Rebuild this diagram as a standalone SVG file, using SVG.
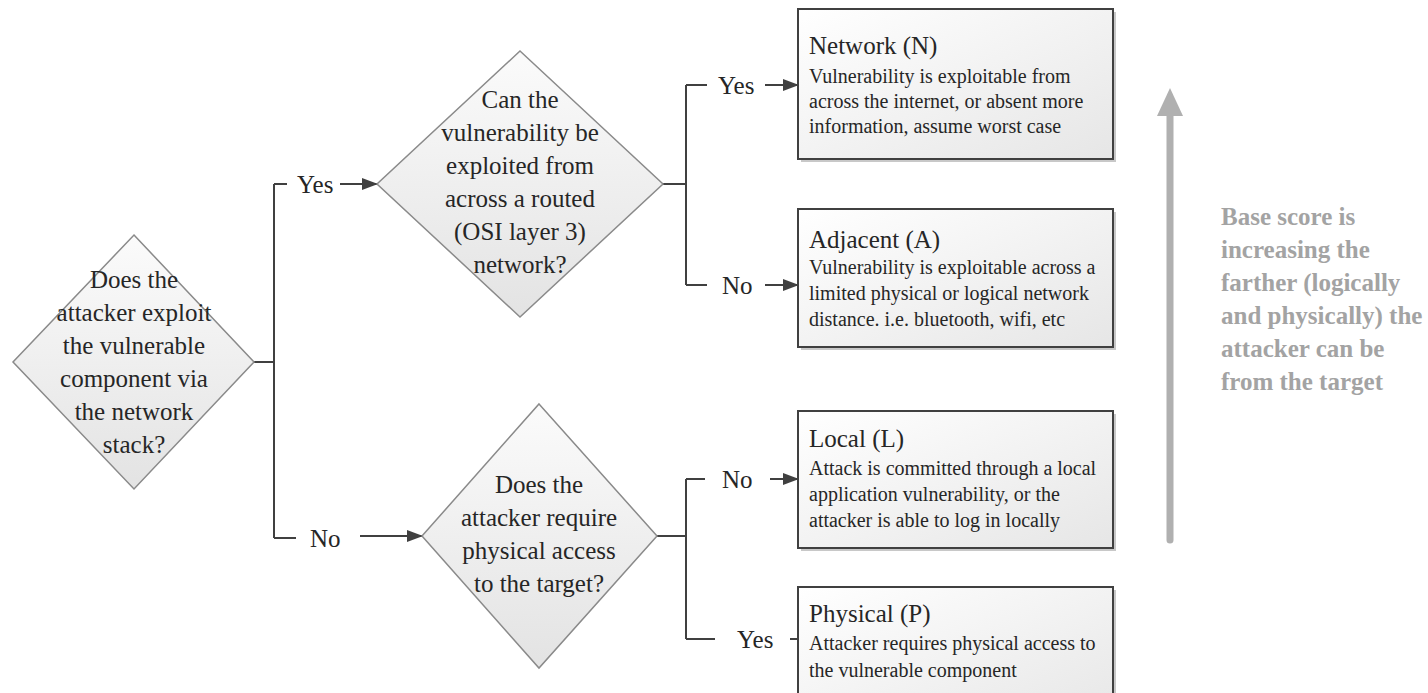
<svg xmlns="http://www.w3.org/2000/svg" width="1428" height="693" viewBox="0 0 1428 693">
<style>
text{fill:#262626;font-family:'Liberation Serif',serif !important}
.q{font-size:25px;text-anchor:middle}
.lbl{font-size:25px}
.tt{font-size:25px}
.ds{font-size:20px}
.side{font-size:25px;font-weight:bold;fill:#a3a3a3}
.dia{fill:url(#gd);stroke:#8a8a8a;stroke-width:1.5}
.box{fill:url(#gb);stroke:#404040;stroke-width:2}
.sh{fill:#c8c8c8}
.ln{fill:none;stroke:#404040;stroke-width:2}
.ar{fill:none;stroke:#404040;stroke-width:2;marker-end:url(#ah)}
</style>
<defs>
<linearGradient id="gd" x1="0" y1="0" x2="0" y2="1"><stop offset="0" stop-color="#fbfbfb"/><stop offset="1" stop-color="#e3e3e3"/></linearGradient>
<linearGradient id="gb" x1="0" y1="0" x2="1" y2="1"><stop offset="0" stop-color="#ffffff"/><stop offset="1" stop-color="#e6e6e6"/></linearGradient>
<marker id="ah" markerUnits="userSpaceOnUse" markerWidth="16" markerHeight="12" refX="15" refY="6" orient="auto"><path d="M0,0 L16,6 L0,12 z" fill="#404040"/></marker>
<marker id="gh" markerUnits="userSpaceOnUse" markerWidth="28" markerHeight="30" refX="2" refY="13" orient="auto"><path d="M0,0 L28,13 L0,26 z" fill="#b0b0b0"/></marker>
</defs>

<g id="connectors">
<path class="ln" d="M254,362 H274 M274,184 V538"/>
<path class="ln" d="M274,184 H287"/>
<path class="ar" d="M340,184 H377"/>
<path class="ln" d="M274,538 H296"/>
<path class="ar" d="M360,536 H422"/>
<path class="ln" d="M663,184 H686 M686,85 V285 M686,85 H707 M686,285 H707"/>
<path class="ar" d="M765,85 H798"/>
<path class="ar" d="M765,285 H798"/>
<path class="ln" d="M657,536 H686 M686,479 V639 M686,479 H705 M686,639 H715"/>
<path class="ar" d="M770,479 H798"/>
<path class="ln" d="M790,639 H798"/>
<text class="lbl" font-family="Liberation Serif" x="297" y="193">Yes</text>
<text class="lbl" font-family="Liberation Serif" x="310" y="547">No</text>
<text class="lbl" font-family="Liberation Serif" x="718" y="94">Yes</text>
<text class="lbl" font-family="Liberation Serif" x="722" y="294">No</text>
<text class="lbl" font-family="Liberation Serif" x="722" y="488">No</text>
<text class="lbl" font-family="Liberation Serif" x="737" y="648">Yes</text>
</g>

<g id="d1">
<polygon class="dia" points="134,235 254,362 134,489 13,362"/>
<text class="q" font-family="Liberation Serif"><tspan x="134" y="288">Does the</tspan><tspan x="134" y="321">attacker exploit</tspan><tspan x="134" y="354">the vulnerable</tspan><tspan x="134" y="387">component via</tspan><tspan x="134" y="420">the network</tspan><tspan x="134" y="453">stack?</tspan></text>
</g>

<g id="d2">
<polygon class="dia" points="520,51 663,184 520,317 377,184"/>
<text class="q" font-family="Liberation Serif"><tspan x="520" y="108">Can the</tspan><tspan x="520" y="141">vulnerability be</tspan><tspan x="520" y="174">exploited from</tspan><tspan x="520" y="207">across a routed</tspan><tspan x="520" y="240">(OSI layer 3)</tspan><tspan x="520" y="273">network?</tspan></text>
</g>

<g id="d3">
<polygon class="dia" points="539,404 657,536 539,668 422,536"/>
<text class="q" font-family="Liberation Serif"><tspan x="539" y="493">Does the</tspan><tspan x="539" y="526">attacker require</tspan><tspan x="539" y="559">physical access</tspan><tspan x="539" y="592">to the target?</tspan></text>
</g>

<g id="boxN">
<rect class="sh" x="801" y="12" width="315" height="150"/>
<rect class="box" x="798" y="9" width="315" height="150"/>
<text class="tt" font-family="Liberation Serif" x="809" y="54">Network (N)</text>
<text class="ds" font-family="Liberation Serif"><tspan x="809" y="83">Vulnerability is exploitable from</tspan><tspan x="809" y="108">across the internet, or absent more</tspan><tspan x="809" y="133">information, assume worst case</tspan></text>
</g>

<g id="boxA">
<rect class="sh" x="801" y="212" width="315" height="138"/>
<rect class="box" x="798" y="209" width="315" height="138"/>
<text class="tt" font-family="Liberation Serif" x="809" y="248">Adjacent (A)</text>
<text class="ds" font-family="Liberation Serif"><tspan x="809" y="274">Vulnerability is exploitable across a</tspan><tspan x="809" y="300">limited physical or logical network</tspan><tspan x="809" y="326">distance. i.e. bluetooth, wifi, etc</tspan></text>
</g>

<g id="boxL">
<rect class="sh" x="801" y="414" width="315" height="137"/>
<rect class="box" x="798" y="411" width="315" height="137"/>
<text class="tt" font-family="Liberation Serif" x="809" y="447">Local (L)</text>
<text class="ds" font-family="Liberation Serif"><tspan x="809" y="475">Attack is committed through a local</tspan><tspan x="809" y="501">application vulnerability, or the</tspan><tspan x="809" y="527">attacker is able to log in locally</tspan></text>
</g>

<g id="boxP">
<rect class="sh" x="801" y="590" width="315" height="140"/>
<rect class="box" x="798" y="587" width="315" height="140"/>
<text class="tt" font-family="Liberation Serif" x="809" y="622">Physical (P)</text>
<text class="ds" font-family="Liberation Serif"><tspan x="809" y="650">Attacker requires physical access to</tspan><tspan x="809" y="677">the vulnerable component</tspan></text>
</g>

<g id="scale">
<path d="M1170,540 V114" fill="none" stroke="#b0b0b0" stroke-width="7" stroke-linecap="round" marker-end="url(#gh)"/>
<text class="side" font-family="Liberation Serif"><tspan x="1221" y="225">Base score is</tspan><tspan x="1221" y="258">increasing the</tspan><tspan x="1221" y="291">farther (logically</tspan><tspan x="1221" y="324">and physically) the</tspan><tspan x="1221" y="357">attacker can be</tspan><tspan x="1221" y="390">from the target</tspan></text>
</g>
</svg>
